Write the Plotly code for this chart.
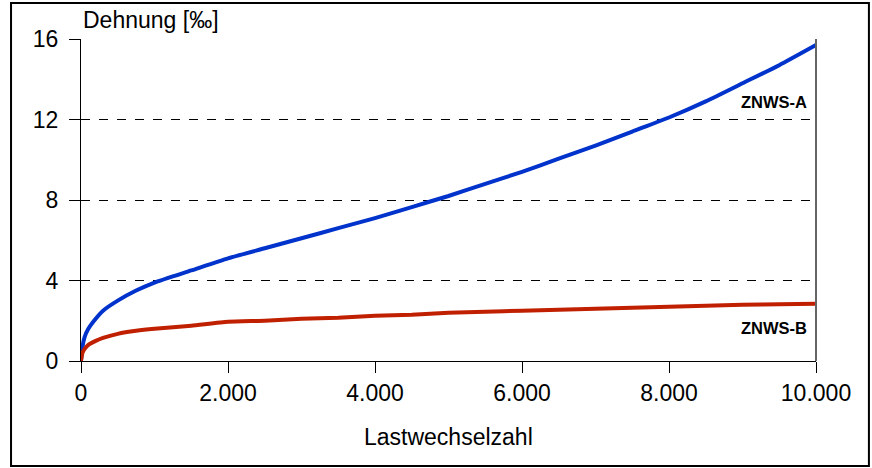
import plotly.graph_objects as go

# Lastwechselzahl (load cycles) and measured strain in per mille
cycles = [0, 20, 50, 100, 200, 300, 500, 750, 1000, 1500, 2000, 2500, 3000, 3500,
          4000, 4500, 5000, 5500, 6000, 6500, 7000, 7500, 8000, 8500, 9000, 9500, 10000]
strain_a = [0, 0.7, 1.2, 1.6, 2.1, 2.5, 3.0, 3.5, 3.9, 4.5, 5.1, 5.6, 6.1, 6.6,
            7.1, 7.65, 8.2, 8.8, 9.4, 10.05, 10.7, 11.4, 12.1, 12.9, 13.8, 14.7, 15.7]
strain_b = [0, 0.4, 0.6, 0.8, 1.0, 1.15, 1.35, 1.5, 1.6, 1.75, 1.95, 2.0, 2.1, 2.15,
            2.25, 2.3, 2.4, 2.45, 2.5, 2.55, 2.6, 2.65, 2.7, 2.75, 2.8, 2.82, 2.85]

x_ticks = [0, 2000, 4000, 6000, 8000, 10000]
x_tick_text = ["0", "2.000", "4.000", "6.000", "8.000", "10.000"]
y_ticks = [0, 4, 8, 12, 16]

FONT = "Liberation Sans, Arial, sans-serif"
SIZE = 23

fig = go.Figure()
fig.add_trace(go.Scatter(x=cycles, y=strain_a, mode="lines", name="ZNWS-A",
                         line=dict(color="#0033CC", width=4, shape="spline", smoothing=0.5)))
fig.add_trace(go.Scatter(x=cycles, y=strain_b, mode="lines", name="ZNWS-B",
                         line=dict(color="#C02000", width=4, shape="spline", smoothing=0.5)))

fig.update_layout(
    width=872, height=468,
    margin=dict(l=81, r=56, t=39, b=107),
    paper_bgcolor="white", plot_bgcolor="white",
    showlegend=False,
    font=dict(family=FONT, size=SIZE, color="black"),
)

fig.update_xaxes(
    range=[0, 10000], tickvals=x_ticks, ticktext=x_tick_text,
    showgrid=False, zeroline=False,
    showline=True, linecolor="black", linewidth=1,
    ticks="outside", ticklen=11, tickcolor="black",
    tickfont=dict(size=SIZE),
)
fig.update_yaxes(
    range=[0, 16], tickvals=y_ticks,
    showgrid=True, gridcolor="black", griddash="dash", gridwidth=1,
    zeroline=False,
    showline=True, linecolor="black", linewidth=1,
    ticks="outside", ticklen=11, tickcolor="black",
    tickfont=dict(size=SIZE), ticklabelstandoff=6,
)

# right-hand frame of the plot area
fig.add_shape(type="line", xref="paper", yref="paper", x0=1, x1=1, y0=0, y1=1,
              line=dict(color="#666666", width=2))
# outer chart border
fig.add_shape(type="rect", xref="paper", yref="paper",
              x0=-0.0952, x1=1.072, y0=-0.326, y1=1.112,
              line=dict(color="black", width=2))

fig.add_annotation(text="Dehnung [‰]", xref="paper", yref="paper", x=0.0, y=1.059,
                   xanchor="left", yanchor="middle", showarrow=False, font=dict(size=SIZE))
fig.add_annotation(text="Lastwechselzahl", xref="paper", yref="paper", x=0.5, y=-0.236,
                   xanchor="center", yanchor="middle", showarrow=False, font=dict(size=SIZE))
fig.add_annotation(text="<b>ZNWS-A</b>", xref="paper", yref="y", x=0.99, y=12.85,
                   xanchor="right", yanchor="middle", showarrow=False, font=dict(size=16.5))
fig.add_annotation(text="<b>ZNWS-B</b>", xref="paper", yref="y", x=0.99, y=1.65,
                   xanchor="right", yanchor="middle", showarrow=False, font=dict(size=16.5))

fig.write_html("out.html")
